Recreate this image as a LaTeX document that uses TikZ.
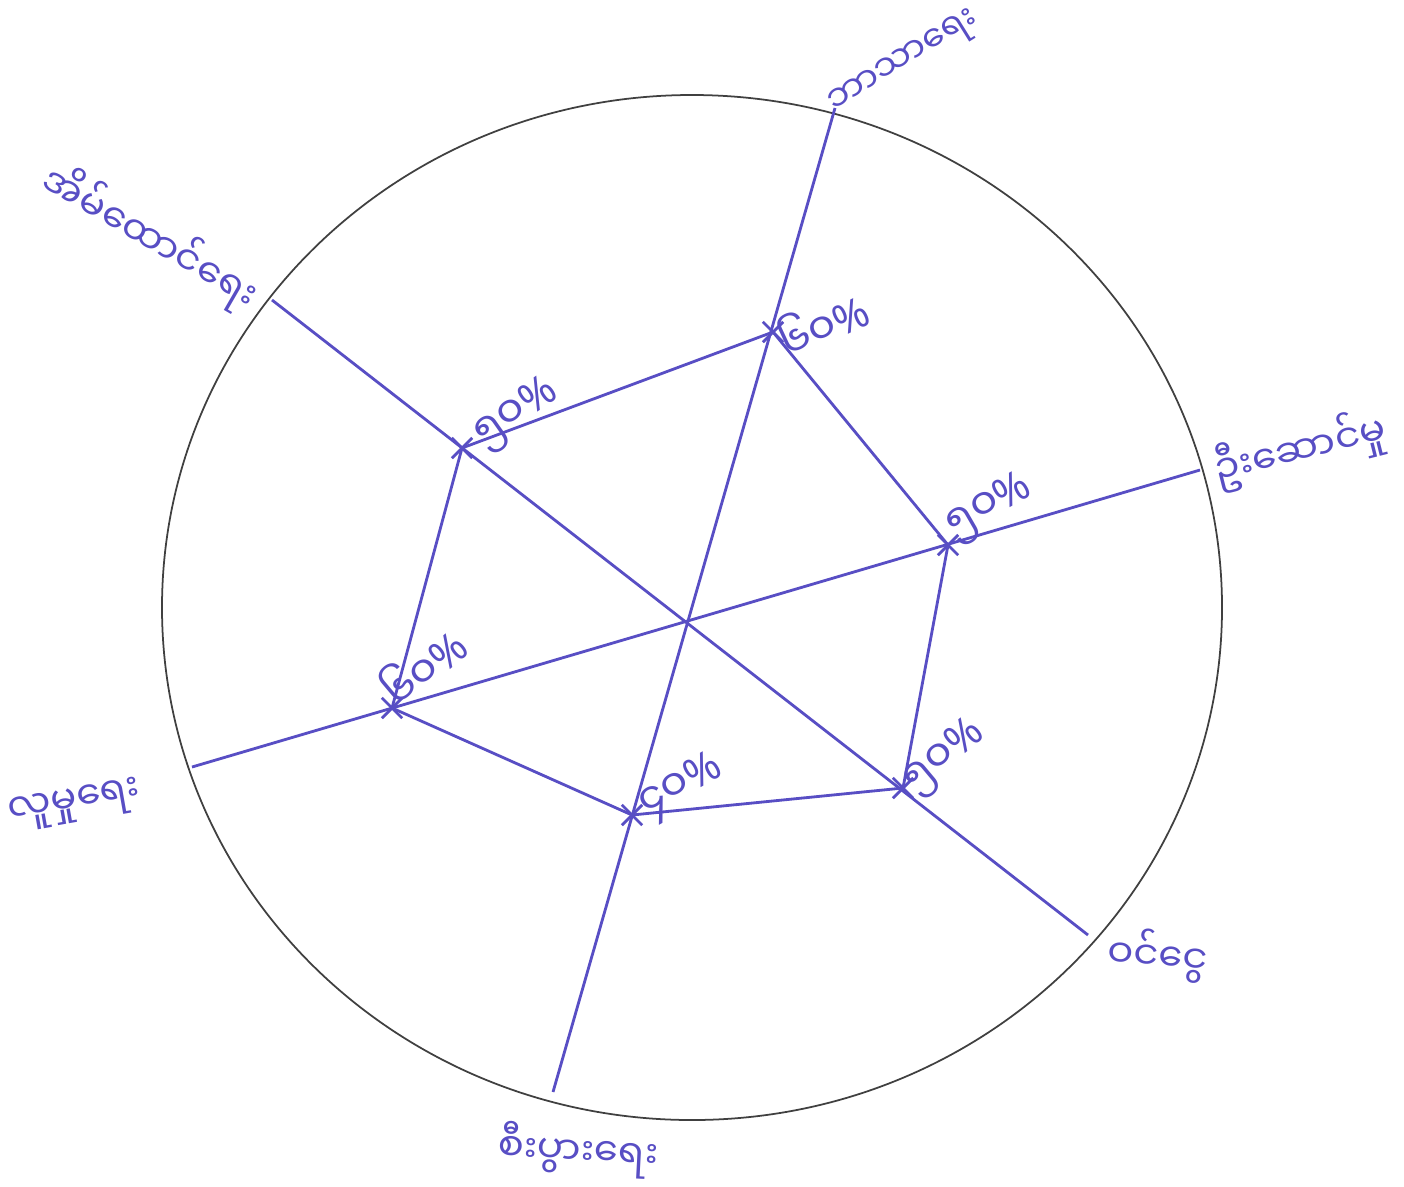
\documentclass[tikz,border=0pt]{standalone}
\usepackage{fontspec}
\newfontfamily\mmfont[Script=Myanmar]{Noto Sans Myanmar UI}
\newfontfamily\latinfont{Noto Sans}
\usetikzlibrary{shapes.misc}
\definecolor{ink}{RGB}{88,78,196}
\newcommand{\pc}{{\latinfont\%}}
\begin{document}
\begin{tikzpicture}
    \useasboundingbox (0,0) rectangle (14.04,-11.86);
    \tikzset{
        spoke/.style={draw=ink, line width=0.8pt},
        hit/.style={cross out, draw=ink, line width=0.8pt, minimum size=5pt, inner sep=0pt},
        pct/.style={text=ink, font=\mmfont\fontsize{12}{14}\selectfont, inner sep=0pt},
        axislbl/.style={text=ink, font=\mmfont\fontsize{11}{13}\selectfont, inner sep=0pt}
    }

    % Draw the outer circle
    \draw[black!75, line width=0.5pt] (6.92,-6.075) ellipse (5.30 and 5.125);

    % Spoke ends
    \coordinate (hub) at (6.88,-6.22);
    \coordinate (relEnd) at (8.35,-1.08);
    \coordinate (ecoEnd) at (5.53,-10.92);
    \coordinate (famEnd) at (2.72,-3.00);
    \coordinate (incEnd) at (10.88,-9.35);
    \coordinate (ledEnd) at (12.00,-4.70);
    \coordinate (socEnd) at (1.92,-7.67);

    \draw[spoke] (relEnd) -- (ecoEnd);
    \draw[spoke] (famEnd) -- (incEnd);
    \draw[spoke] (ledEnd) -- (socEnd);

    % Data points on the spokes
    \node[hit] (pRel) at (7.73,-3.32) {};
    \node[hit] (pLed) at (9.48,-5.45) {};
    \node[hit] (pInc) at (9.03,-7.88) {};
    \node[hit] (pEco) at (6.32,-8.15) {};
    \node[hit] (pSoc) at (3.92,-7.08) {};
    \node[hit] (pFam) at (4.62,-4.48) {};

    \draw[spoke] (pRel.center) -- (pLed.center) -- (pInc.center) -- (pEco.center)
        -- (pSoc.center) -- (pFam.center) -- cycle;

    % Percent values
    \node[pct, rotate=25] (vRel) at (8.22,-3.22) {၆၀\pc};
    \node[pct, rotate=35] (vFam) at (5.17,-4.15) {၅၀\pc};
    \node[pct, rotate=30] (vLed) at (9.90,-5.08) {၅၀\pc};
    \node[pct, rotate=40] (vSoc) at (4.22,-6.65) {၆၀\pc};
    \node[pct, rotate=30] (vEco) at (6.82,-7.88) {၄၀\pc};
    \node[pct, rotate=40] (vInc) at (9.45,-7.58) {၅၀\pc};

    % Axis names
    \node[axislbl, rotate=32, font=\mmfont\fontsize{10}{12}\selectfont] (lRel) at (9.05,-0.64) {ဘာသာရေး};
    \node[axislbl, rotate=-30] (lFam) at (1.50,-2.38) {အိမ်ထောင်ရေး};
    \node[axislbl, rotate=14] (lLed) at (13.00,-4.50) {ဦးဆောင်မှု};
    \node[axislbl, rotate=10] (lSoc) at (0.75,-8.05) {လူမှုရေး};
    \node[axislbl, rotate=-5] (lInc) at (11.58,-9.55) {ဝင်ငွေ};
    \node[axislbl, rotate=-3] (lEco) at (5.78,-11.50) {စီးပွားရေး};
\end{tikzpicture}
\end{document}
